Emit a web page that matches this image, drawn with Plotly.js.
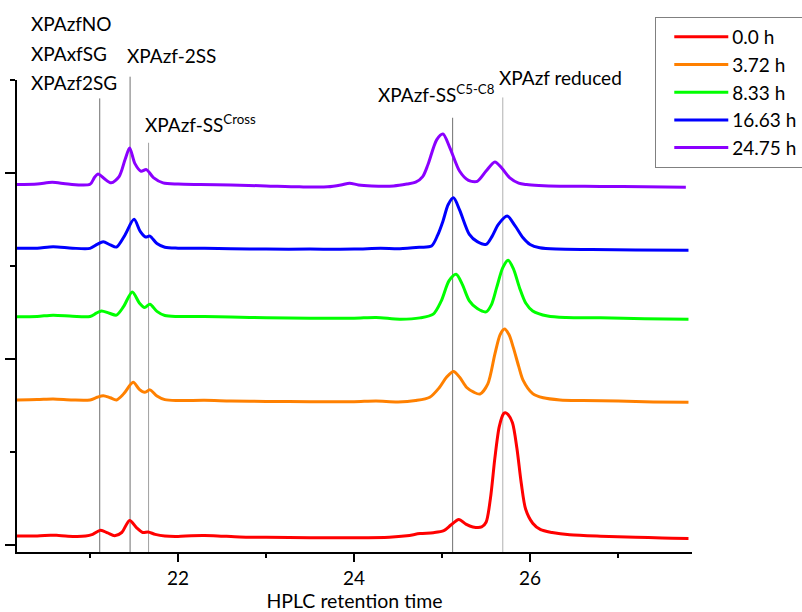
<!DOCTYPE html>
<html>
<head>
<meta charset="utf-8">
<script src="https://cdn.plot.ly/plotly-3.0.1.min.js"></script>
<style>html,body{margin:0;padding:0;background:#fff;}#chart{width:802px;height:612px;}</style>
</head>
<body>
<div id="chart"></div>
<script>
// ---- data (x: retention time, y: offset signal, arbitrary units)
const seriesNames = ["0.0 h", "3.72 h", "8.33 h", "16.63 h", "24.75 h"];
const seriesColors = ["#ff0000", "#ff8000", "#00ff00", "#0000ff", "#8b00ff"];

const xRed = [20.17,20.4,20.55,20.62,20.75,20.95,21.03,21.12,21.2,21.28,21.36,21.45,21.53,21.6,21.66,21.74,21.85,22.0,22.15,22.3,22.45,22.7,23.0,23.5,24.0,24.4,24.6,24.75,24.9,25.02,25.1,25.19,25.27,25.35,25.45,25.5,25.55,25.6,25.65,25.7,25.72,25.75,25.8,25.85,25.9,25.95,26.03,26.12,26.25,26.45,26.8,27.2,27.5,27.8];
const yRed = [0.092,0.092,0.10,0.10,0.09,0.092,0.11,0.155,0.125,0.095,0.13,0.26,0.18,0.13,0.135,0.11,0.092,0.088,0.095,0.097,0.093,0.082,0.078,0.074,0.074,0.08,0.095,0.118,0.128,0.15,0.21,0.27,0.22,0.19,0.19,0.24,0.50,0.93,1.27,1.41,1.42,1.40,1.31,1.04,0.66,0.38,0.23,0.16,0.13,0.105,0.09,0.08,0.07,0.065];

const xOrange = [20.17,20.4,20.58,20.8,21.0,21.08,21.15,21.23,21.3,21.38,21.49,21.56,21.62,21.68,21.76,21.85,22.0,22.3,22.6,23.0,23.5,24.0,24.25,24.5,24.7,24.86,24.97,25.05,25.13,25.2,25.28,25.36,25.43,25.52,25.6,25.66,25.71,25.76,25.81,25.87,25.92,26.03,26.15,26.34,26.6,27.0,27.4,27.8];
const yOrange = [1.557,1.56,1.567,1.556,1.557,1.585,1.603,1.58,1.557,1.62,1.746,1.67,1.638,1.665,1.60,1.56,1.55,1.552,1.545,1.54,1.538,1.538,1.545,1.535,1.55,1.585,1.69,1.80,1.864,1.80,1.69,1.64,1.62,1.73,2.05,2.26,2.32,2.26,2.12,1.92,1.77,1.625,1.58,1.557,1.55,1.545,1.535,1.531];

const xGreen = [20.17,20.4,20.58,20.8,21.0,21.07,21.13,21.22,21.3,21.38,21.48,21.56,21.62,21.68,21.76,21.85,22.0,22.3,22.6,23.0,23.5,24.0,24.25,24.52,24.75,24.9,24.99,25.08,25.16,25.23,25.31,25.4,25.5,25.56,25.62,25.69,25.75,25.81,25.88,25.95,26.03,26.2,26.41,26.8,27.3,27.8];
const yGreen = [2.451,2.455,2.469,2.457,2.454,2.49,2.515,2.49,2.469,2.56,2.719,2.60,2.551,2.587,2.51,2.465,2.455,2.455,2.45,2.44,2.436,2.436,2.445,2.426,2.44,2.48,2.62,2.84,2.909,2.80,2.623,2.54,2.505,2.58,2.765,2.98,3.06,2.97,2.765,2.60,2.515,2.46,2.443,2.44,2.43,2.426];

const xBlue = [20.17,20.4,20.58,20.8,21.0,21.08,21.15,21.23,21.3,21.39,21.5,21.57,21.63,21.68,21.76,21.85,22.0,22.3,22.6,23.0,23.5,24.0,24.3,24.52,24.75,24.88,24.95,25.01,25.07,25.13,25.2,25.31,25.4,25.5,25.57,25.64,25.74,25.83,25.92,26.0,26.11,26.3,26.7,27.2,27.8];
const yBlue = [3.188,3.19,3.206,3.19,3.188,3.23,3.259,3.225,3.202,3.32,3.50,3.37,3.31,3.32,3.24,3.20,3.19,3.19,3.185,3.18,3.18,3.18,3.188,3.184,3.20,3.213,3.33,3.481,3.66,3.732,3.60,3.339,3.26,3.231,3.32,3.446,3.535,3.43,3.302,3.23,3.195,3.18,3.175,3.17,3.167];

const xPurple = [20.17,20.4,20.57,20.75,21.0,21.05,21.09,21.16,21.24,21.33,21.4,21.45,21.51,21.58,21.64,21.72,21.83,22.0,22.25,22.6,23.0,23.38,23.7,23.85,23.95,24.05,24.2,24.45,24.6,24.7,24.78,24.84,24.94,25.01,25.09,25.2,25.3,25.4,25.5,25.6,25.68,25.77,25.87,25.96,26.1,26.34,26.8,27.3,27.77];
const yPurple = [3.875,3.88,3.90,3.88,3.878,3.95,3.989,3.94,3.893,3.96,4.15,4.268,4.10,4.018,4.036,3.95,3.893,3.88,3.875,3.87,3.86,3.85,3.85,3.87,3.89,3.87,3.86,3.86,3.88,3.90,3.96,4.09,4.359,4.419,4.268,4.018,3.92,3.91,4.02,4.118,4.05,3.946,3.89,3.875,3.865,3.857,3.855,3.85,3.846];

const seriesX = [xRed, xOrange, xGreen, xBlue, xPurple];
const seriesY = [yRed, yOrange, yGreen, yBlue, yPurple];

// peak marker lines (retention times)
const markerTimes = [21.11, 21.455, 21.665, 25.12, 25.69];
const xTicks = [22, 24, 26];

const traces = seriesNames.map((name, i) => ({
  type: "scatter", mode: "lines", name: name,
  x: seriesX[i], y: seriesY[i],
  line: {color: seriesColors[i], width: 3, shape: "spline", smoothing: 0.8},
  hoverinfo: "skip"
}));

const markerStyle = [
  {top: 0.961, color: "#707070"},
  {top: 1.007, color: "#707070"},
  {top: 0.867, color: "#a0a0a0"},
  {top: 0.920, color: "#707070"},
  {top: 0.963, color: "#b0b0b0"}
];
const shapes = markerTimes.map((t, i) => ({
  type: "line", xref: "x", yref: "paper", x0: t, x1: t, y0: 0, y1: markerStyle[i].top,
  line: {color: markerStyle[i].color, width: 1}, layer: "below"
}));

const F = "Lato, 'Open Sans', sans-serif";
const FS = 19;
const ann = (text, x, y) => ({text: text, xref: "paper", yref: "paper", x: x, y: y,
  xanchor: "left", yanchor: "middle", showarrow: false, font: {family: F, size: FS, color: "#000"}});

const layout = {
  width: 802, height: 612,
  margin: {l: 17, r: 110, t: 80, b: 60, autoexpand: false},
  paper_bgcolor: "#fff", plot_bgcolor: "#fff",
  font: {family: F, size: FS, color: "#000"},
  showlegend: true,
  legend: {x: 0.9456, y: 1.1336, xanchor: "left", yanchor: "top",
    bordercolor: "#808080", borderwidth: 1, bgcolor: "#fff",
    font: {family: F, size: FS, color: "#000"}, itemwidth: 66},
  xaxis: {range: [20.17, 27.84], tickmode: "array", tickvals: xTicks, ticktext: xTicks.map(String),
    ticks: "outside", ticklen: 8, tickwidth: 2, tickcolor: "#000",
    minor: {ticks: "outside", dtick: 1, tick0: 0, ticklen: 4, tickwidth: 2, tickcolor: "#000"},
    showline: true, linecolor: "#000", linewidth: 2, showgrid: false, zeroline: false,
    tickfont: {family: F, size: FS}, automargin: false,
    title: {text: "HPLC retention time", font: {family: F, size: 19.5}, standoff: 8}},
  yaxis: {range: [-0.08, 5.0], dtick: 2, tick0: 0, showticklabels: false,
    ticks: "outside", ticklen: 10, tickwidth: 2, tickcolor: "#000",
    minor: {ticks: "outside", dtick: 1, tick0: 0, ticklen: 5, tickwidth: 2, tickcolor: "#000"},
    showline: true, linecolor: "#000", linewidth: 2, showgrid: false, zeroline: false, automargin: false},
  shapes: shapes,
  annotations: [
    ann("XPAzfNO", 0.0185, 1.1198),
    ann("XPAxfSG", 0.0185, 1.0566),
    ann("XPAzf2SG", 0.0185, 0.9943),
    ann("XPAzf-2SS", 0.160, 1.0524),
    ann("XPAzf-SS<sup>Cross</sup>", 0.1865, 0.9082),
    ann("XPAzf-SS<sup>C5-C8</sup>", 0.5315, 0.9718),
    ann("XPAzf reduced", 0.7118, 1.0053)
  ]
};

Plotly.newPlot("chart", traces, layout, {displayModeBar: false, staticPlot: true}).then(gd => {
  gd.querySelectorAll(".legendlines path").forEach(p => p.setAttribute("d", "M18,0h54"));
});
</script>
</body>
</html>
